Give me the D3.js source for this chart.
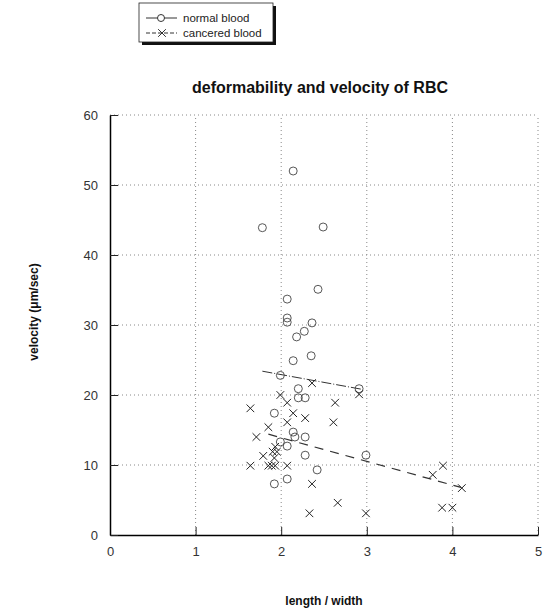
<!DOCTYPE html>
<html>
<head>
<meta charset="utf-8">
<script src="https://cdn.jsdelivr.net/npm/d3@7"></script>
<style>
  body { margin: 0; background: #fff; }
  text { font-family: "Liberation Sans", Arial, sans-serif; fill: #111; }
</style>
</head>
<body>
<div id="visualization"></div>
<script>
// normal blood (circles): length/width, velocity
var normalRatio = [2.14, 1.78, 2.49, 2.43, 2.07, 2.07, 2.07, 2.36, 2.27, 2.18, 2.35, 2.14, 1.99, 2.91,
  2.20, 2.20, 2.28, 1.92, 2.14, 2.16, 2.28, 1.99, 2.07, 2.28, 2.99, 2.42, 2.07, 1.92];
var normalVelocity = [52.0, 43.9, 44.0, 35.1, 33.7, 31.0, 30.4, 30.3, 29.1, 28.3, 25.6, 24.9, 22.8, 20.9,
  20.9, 19.6, 19.6, 17.4, 14.7, 14.0, 14.0, 13.3, 12.7, 11.4, 11.4, 9.3, 8.0, 7.3];

// cancered blood (crosses)
var cancerRatio = [2.36, 2.91, 1.99, 2.63, 2.07, 1.64, 2.14, 2.28, 2.07, 2.61, 1.85, 1.71, 1.93, 1.90,
  1.95, 1.79, 1.92, 1.64, 1.85, 1.89, 1.93, 2.07, 3.89, 3.77, 2.36, 4.11, 2.66, 3.88, 4.00, 2.33, 2.99];
var cancerVelocity = [21.7, 20.1, 20.0, 18.9, 18.9, 18.1, 17.4, 16.7, 16.1, 16.1, 15.4, 14.0, 12.6, 11.9,
  11.9, 11.3, 11.0, 9.9, 9.9, 9.9, 9.9, 9.9, 9.9, 8.6, 7.3, 6.7, 4.6, 3.9, 3.9, 3.1, 3.1];

// trend lines (end points)
var normalTrend = [[1.78, 23.4], [2.95, 20.8]];
var cancerTrend = [[1.85, 14.4], [4.10, 6.8]];

var xTicks = [0, 1, 2, 3, 4, 5];
var yTicks = [0, 10, 20, 30, 40, 50, 60];
var seriesNames = ["normal blood", "cancered blood"];

// Set up the dimensions
var width = 543, height = 612;
var margin = { top: 115, right: 5, bottom: 77, left: 110 };

var svg = d3.select("#visualization")
  .append("svg")
  .attr("width", width)
  .attr("height", height);

var xScale = d3.scaleLinear().domain([0, 5]).range([margin.left, width - margin.right]);
var yScale = d3.scaleLinear().domain([0, 60]).range([height - margin.bottom, margin.top]);

// Dotted grid lines at the major ticks
svg.append("g")
  .selectAll("line")
  .data(xTicks.slice(1))
  .enter().append("line")
  .attr("x1", function (d) { return xScale(d); })
  .attr("x2", function (d) { return xScale(d); })
  .attr("y1", yScale(0))
  .attr("y2", yScale(60))
  .attr("stroke", "#888")
  .attr("stroke-dasharray", "1,3");
svg.append("g")
  .selectAll("line")
  .data(yTicks.slice(1))
  .enter().append("line")
  .attr("x1", xScale(0))
  .attr("x2", xScale(5))
  .attr("y1", function (d) { return yScale(d); })
  .attr("y2", function (d) { return yScale(d); })
  .attr("stroke", "#888")
  .attr("stroke-dasharray", "1,3");

// Axes: minor ticks plus longer major ticks, pointing inward
var xAxis = svg.append("g")
  .attr("transform", "translate(0," + yScale(0) + ")")
  .call(d3.axisTop(xScale).tickValues(d3.range(0, 5.01, 0.2)).tickSize(4).tickSizeOuter(0).tickFormat(""));
xAxis.call(d3.axisTop(xScale).tickValues(xTicks).tickSize(8).tickSizeOuter(0).tickFormat(""));
xAxis.select(".domain").attr("stroke-width", 1.5);
svg.append("g")
  .attr("transform", "translate(0," + yScale(0) + ")")
  .call(d3.axisBottom(xScale).tickValues(xTicks).tickSize(0).tickPadding(12).tickFormat(d3.format("d")))
  .call(function (g) { g.select(".domain").remove(); })
  .selectAll("text")
  .style("font-size", "13px")
  .style("fill", "#333");

var yAxis = svg.append("g")
  .attr("transform", "translate(" + xScale(0) + ",0)")
  .call(d3.axisRight(yScale).tickValues(d3.range(0, 61, 2)).tickSize(4).tickSizeOuter(0).tickFormat(""));
yAxis.call(d3.axisRight(yScale).tickValues(yTicks).tickSize(8).tickSizeOuter(0).tickFormat(""));
yAxis.select(".domain").attr("stroke-width", 1.5);
svg.append("g")
  .attr("transform", "translate(" + xScale(0) + ",0)")
  .call(d3.axisLeft(yScale).tickValues(yTicks).tickSize(0).tickPadding(12).tickFormat(d3.format("d")))
  .call(function (g) { g.select(".domain").remove(); })
  .selectAll("text")
  .style("font-size", "13px")
  .style("fill", "#333");
svg.selectAll(".tick line").attr("stroke", "#222");

// Trend lines
var line = d3.line()
  .x(function (d) { return xScale(d[0]); })
  .y(function (d) { return yScale(d[1]); });
svg.append("path")
  .datum(normalTrend)
  .attr("d", line)
  .attr("fill", "none")
  .attr("stroke", "#333")
  .attr("stroke-width", 1)
  .attr("stroke-dasharray", "10,2,1,2");
svg.append("path")
  .datum(cancerTrend)
  .attr("d", line)
  .attr("fill", "none")
  .attr("stroke", "#333")
  .attr("stroke-width", 1.2)
  .attr("stroke-dasharray", "9,7");

// Normal blood circles
svg.append("g")
  .selectAll("circle")
  .data(normalRatio)
  .enter().append("circle")
  .attr("cx", function (d) { return xScale(d); })
  .attr("cy", function (d, i) { return yScale(normalVelocity[i]); })
  .attr("r", 4)
  .attr("fill", "none")
  .attr("stroke", "#444")
  .attr("stroke-width", 0.9);

// Cancered blood crosses
var cross = d3.symbol().type(d3.symbolX).size(40);
svg.append("g")
  .selectAll("path")
  .data(cancerRatio)
  .enter().append("path")
  .attr("transform", function (d, i) { return "translate(" + xScale(d) + "," + yScale(cancerVelocity[i]) + ")"; })
  .attr("d", cross)
  .attr("fill", "none")
  .attr("stroke", "#222")
  .attr("stroke-width", 1);

// Title and axis titles
svg.append("text")
  .attr("x", 320)
  .attr("y", 93)
  .attr("text-anchor", "middle")
  .style("font-size", "16px")
  .style("font-weight", "bold")
  .text("deformability and velocity of RBC");
svg.append("text")
  .attr("x", 324)
  .attr("y", 605)
  .attr("text-anchor", "middle")
  .style("font-size", "12px")
  .style("font-weight", "bold")
  .text("length / width");
svg.append("text")
  .attr("transform", "translate(38,312) rotate(-90)")
  .attr("text-anchor", "middle")
  .style("font-size", "12px")
  .style("font-weight", "bold")
  .text("velocity (\u03bcm/sec)");

// Legend box with shadow
var legend = svg.append("g").attr("transform", "translate(139,3)");
legend.append("rect")
  .attr("x", 3).attr("y", 3)
  .attr("width", 134).attr("height", 39)
  .attr("fill", "#111");
legend.append("rect")
  .attr("x", 0).attr("y", 0)
  .attr("width", 134).attr("height", 39)
  .attr("fill", "#fff")
  .attr("stroke", "#222")
  .attr("stroke-width", 0.8);
seriesNames.forEach(function (name, i) {
  var ly = 15 + i * 15;
  legend.append("line")
    .attr("x1", 7).attr("x2", 38)
    .attr("y1", ly).attr("y2", ly)
    .attr("stroke", "#333")
    .attr("stroke-dasharray", i === 0 ? null : "4,2");
  if (i === 0) {
    legend.append("circle")
      .attr("cx", 22).attr("cy", ly).attr("r", 3.5)
      .attr("fill", "#fff").attr("stroke", "#333");
  } else {
    legend.append("path")
      .attr("transform", "translate(23," + ly + ")")
      .attr("d", cross)
      .attr("fill", "none")
      .attr("stroke", "#333");
  }
  legend.append("text")
    .attr("x", 44)
    .attr("y", ly + 4)
    .style("font-size", "11.5px")
    .style("fill", "#222")
    .text(name);
});
</script>
</body>
</html>
